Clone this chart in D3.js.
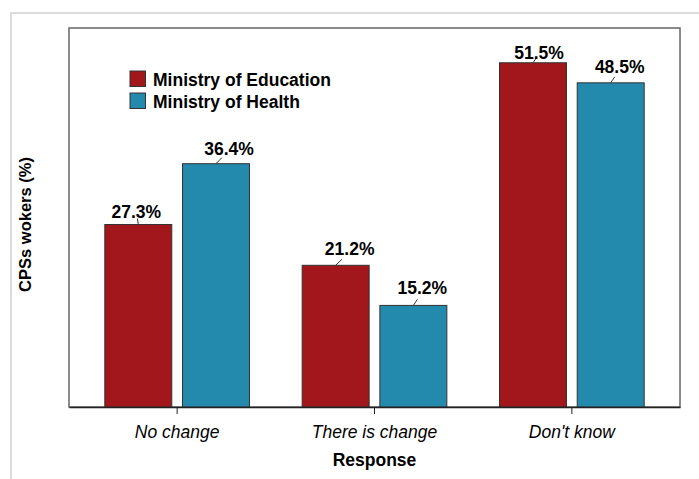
<!DOCTYPE html>
<html>
<head>
<meta charset="utf-8">
<script src="https://cdn.jsdelivr.net/npm/d3@7"></script>
<style>
    body { margin: 0; background: #fff; }
    svg text { font-family: "Liberation Sans", Arial, sans-serif; fill: #000; }
</style>
</head>
<body>
<div id="chart"></div>
<script>
// data
const categories = ["No change", "There is change", "Don't know"];
const seriesNames = ["Ministry of Education", "Ministry of Health"];
const education = [27.3, 21.2, 51.5];
const health = [36.4, 15.2, 48.5];
const seriesColors = ["#a1171c", "#248aad"];

// small hand nudges for the value labels (dx of text centre, gap above bar top)
const labelNudge = [
    [[-2, 7], [13, 9]],
    [[14, 10], [9, 11]],
    [[6, 4], [9, 10]]
];

const width = 699;
const height = 479;
const plot = { left: 69, right: 680, top: 28, bottom: 407 };

const svg = d3.select("#chart")
    .append("svg")
    .attr("width", width)
    .attr("height", height);

// light outer frame
svg.append("path")
    .attr("d", `M11,${height} V13 H${width}`)
    .attr("fill", "none")
    .attr("stroke", "#dcdcdc")
    .attr("stroke-width", 2);

const x0 = d3.scaleBand()
    .domain(categories)
    .range([plot.left, plot.right])
    .paddingInner(0)
    .paddingOuter(0.048);

const x1 = d3.scaleBand()
    .domain(seriesNames)
    .range([0, x0.bandwidth()])
    .paddingInner(0.138)
    .paddingOuter(0.339);

const y = d3.scaleLinear()
    .domain([0, 56.7])
    .range([plot.bottom, plot.top]);

const rows = categories.map((c, i) => ({
    category: c,
    values: [education[i], health[i]]
}));

// plot box
svg.append("rect")
    .attr("x", plot.left)
    .attr("y", plot.top)
    .attr("width", plot.right - plot.left)
    .attr("height", plot.bottom - plot.top)
    .attr("fill", "none")
    .attr("stroke", "#666")
    .attr("stroke-width", 1.5);

const groups = svg.append("g")
    .selectAll("g")
    .data(rows)
    .enter()
    .append("g")
    .attr("transform", d => `translate(${x0(d.category)},0)`);

groups.selectAll("rect")
    .data(d => d.values.map((v, j) => ({ v, j })))
    .enter()
    .append("rect")
    .attr("x", d => x1(seriesNames[d.j]))
    .attr("y", d => y(d.v))
    .attr("width", x1.bandwidth())
    .attr("height", d => y(0) - y(d.v))
    .attr("fill", d => seriesColors[d.j])
    .attr("stroke", "#333")
    .attr("stroke-width", 1);

// value labels with little leader lines
groups.each(function(row, i) {
    const g = d3.select(this);
    row.values.forEach((v, j) => {
        const cx = x1(seriesNames[j]) + x1.bandwidth() / 2;
        const [dx, gap] = labelNudge[i][j];
        const top = y(v);
        g.append("line")
            .attr("x1", cx)
            .attr("y1", top)
            .attr("x2", cx + dx * 0.45)
            .attr("y2", top - Math.min(gap, 6))
            .attr("stroke", "#333")
            .attr("stroke-width", 1);
        g.append("text")
            .attr("x", cx + dx)
            .attr("y", top - gap)
            .attr("text-anchor", "middle")
            .attr("font-size", 17.5)
            .attr("font-weight", "bold")
            .text(v.toFixed(1) + "%");
    });
});

// x axis
const xAxis = svg.append("g")
    .attr("transform", `translate(0,${plot.bottom})`)
    .call(d3.axisBottom(x0).tickSize(7).tickSizeOuter(0).tickPadding(12));
xAxis.select(".domain").attr("stroke", "#222").attr("stroke-width", 1.5);
xAxis.selectAll(".tick line").attr("stroke", "#222");
xAxis.selectAll(".tick text")
    .attr("font-size", 17.5)
    .attr("font-style", "italic")
    .attr("font-family", "Liberation Sans, Arial, sans-serif")
    .attr("fill", "#111");

svg.append("text")
    .attr("x", (plot.left + plot.right) / 2)
    .attr("y", 466)
    .attr("text-anchor", "middle")
    .attr("font-size", 17.5)
    .attr("font-weight", "bold")
    .text("Response");

svg.append("text")
    .attr("transform", `translate(31,${(plot.top + plot.bottom) / 2 + 7}) rotate(-90)`)
    .attr("text-anchor", "middle")
    .attr("font-size", 16.5)
    .attr("font-weight", "bold")
    .text("CPSs wokers (%)");

// legend
const legend = svg.append("g")
    .selectAll("g")
    .data(seriesNames)
    .enter()
    .append("g")
    .attr("transform", (d, i) => `translate(130,${71 + i * 22})`);

legend.append("rect")
    .attr("width", 15.5)
    .attr("height", 15.5)
    .attr("fill", (d, i) => seriesColors[i])
    .attr("stroke", "#333")
    .attr("stroke-width", 1);

legend.append("text")
    .attr("x", 23)
    .attr("y", 14.5)
    .attr("font-size", 17.5)
    .attr("font-weight", "bold")
    .text(d => d);
</script>
</body>
</html>
